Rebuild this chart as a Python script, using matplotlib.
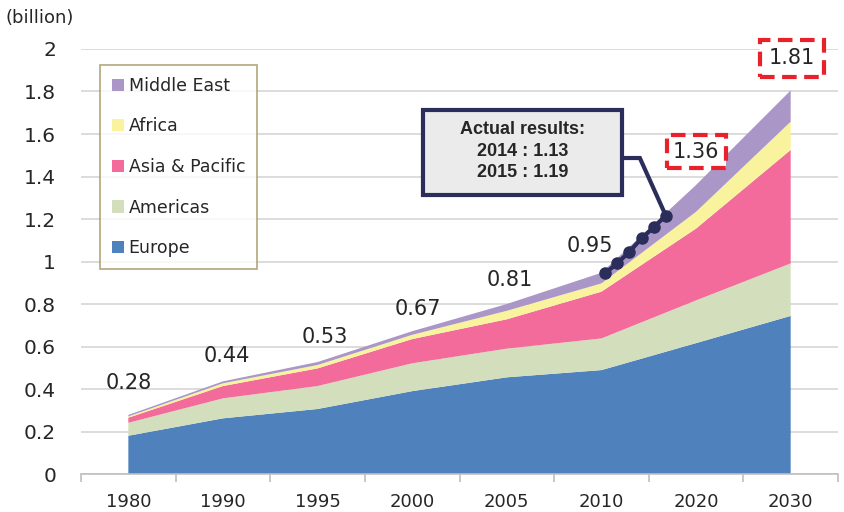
import numpy as np
import matplotlib.pyplot as plt
from matplotlib.patches import Rectangle

# categories (equally spaced on the chart)
years = ['1980', '1990', '1995', '2000', '2005', '2010', '2020', '2030']

# billion, per region (stack order bottom -> top)
europe   = [0.180, 0.262, 0.306, 0.390, 0.455, 0.489, 0.616, 0.744]
americas = [0.061, 0.094, 0.108, 0.131, 0.135, 0.149, 0.201, 0.247]
asia     = [0.024, 0.058, 0.083, 0.114, 0.138, 0.220, 0.338, 0.534]
africa   = [0.006, 0.013, 0.016, 0.020, 0.040, 0.039, 0.079, 0.133]
mideast  = [0.007, 0.009, 0.014, 0.017, 0.032, 0.050, 0.126, 0.147]

totals = ['0.28', '0.44', '0.53', '0.67', '0.81', '0.95', '1.36', '1.81']

# actual results 2010-2015 (as drawn)
act_years = [2010, 2011, 2012, 2013, 2014, 2015]
act_vals = [0.945, 0.992, 1.046, 1.109, 1.161, 1.216]

names = ['Europe', 'Americas', 'Asia & Pacific', 'Africa', 'Middle East']
colors = ['#4F81BD', '#D3DFBC', '#F26B9A', '#F8F39C', '#AB96C8']

plt.rcParams['font.family'] = ['DejaVu Sans']
txt = '#262626'
navy = '#2B2D5A'

fig = plt.figure(figsize=(8.45, 5.12), dpi=100)
ax = fig.add_axes([0.0959, 0.0742, 0.8958, 0.8301])

x = np.arange(len(years))
ax.stackplot(x, europe, americas, asia, africa, mideast, colors=colors,
             labels=names, zorder=2)

ax.set_xlim(-0.5, len(years) - 0.5)
ax.set_ylim(0, 2)
ax.set_yticks(np.arange(0, 2.01, 0.2))
ax.set_yticklabels(['0', '0.2', '0.4', '0.6', '0.8', '1', '1.2', '1.4', '1.6', '1.8', '2'])
ax.yaxis.grid(True, color='#D9D9D9', lw=1.3, zorder=0)
ax.set_axisbelow(True)
ax.tick_params(axis='y', length=0, labelsize=14.5, colors=txt, pad=18)

ax.set_xticks(x)
ax.set_xticklabels(years)
ax.set_xticks(np.arange(-0.5, len(years)), minor=True)
ax.tick_params(axis='x', which='major', length=0, labelsize=13, colors=txt, pad=14)
ax.tick_params(axis='x', which='minor', length=6, color='#BFBFBF', width=1.2)
for s in ['top', 'right', 'left']:
    ax.spines[s].set_visible(False)
ax.spines['bottom'].set_color('#BFBFBF')
ax.spines['bottom'].set_linewidth(1.2)

fig.text(0.007, 0.965, '(billion)', fontsize=13, color=txt, va='center')

# total labels
stack_top = np.sum([europe, americas, asia, africa, mideast], axis=0)
offs = [(0, 23), (3, 18), (5, 18), (4, 16), (2, 17), (-8, 19), (0, 24), (1, 23)]
for i, lab in enumerate(totals):
    kw = {}
    if i >= 6:
        pad = 0.3 if i == 6 else 0.42
        kw = dict(bbox=dict(boxstyle='square,pad=%.2f' % pad, fc='white', ec='#E8212B',
                            lw=3, ls=(0, (3.5, 1.8))))
    ax.annotate(lab, (x[i], stack_top[i]), xytext=offs[i], textcoords='offset points',
                ha='center', va='center', fontsize=15, color=txt, zorder=5, **kw)

# actual results line
ax_x = [5.04 + (y - 2010) * 0.128 for y in act_years]
ax.plot(ax_x, act_vals, color=navy, lw=3, marker='o', ms=8, zorder=6,
        solid_capstyle='round')

# callout box + connector
bx0, bx1, by0, by1 = 3.115, 5.216, 1.313, 1.713
ax.add_patch(Rectangle((bx0, by0), bx1 - bx0, by1 - by0, fc='#EBEBEB', ec=navy,
                       lw=3, zorder=7))
ax.text((bx0 + bx1) / 2, (by0 + by1) / 2 + 0.005,
        'Actual results:\n2014 : 1.13\n2015 : 1.19',
        ha='center', va='center', fontsize=13, fontweight='bold', color=txt,
        family=['Liberation Sans', 'DejaVu Sans'], linespacing=1.35, zorder=8)
ax.plot([bx1, 5.406, ax_x[-1]], [1.487, 1.487, act_vals[-1]], color=navy, lw=3,
        zorder=6, solid_joinstyle='miter')

# legend
h, l = ax.get_legend_handles_labels()
leg = ax.legend(h[::-1], l[::-1], loc='upper left', bbox_to_anchor=(0.025, 0.963),
                fontsize=12.5, labelspacing=1.3, handlelength=0.7, handleheight=0.7,
                handletextpad=0.25, borderpad=0.7, fancybox=False, frameon=True,
                borderaxespad=0)
leg.get_frame().set_edgecolor('#A89968')
leg.get_frame().set_linewidth(1.3)
for t in leg.get_texts():
    t.set_color(txt)

fig.savefig('out.png', dpi=100)
